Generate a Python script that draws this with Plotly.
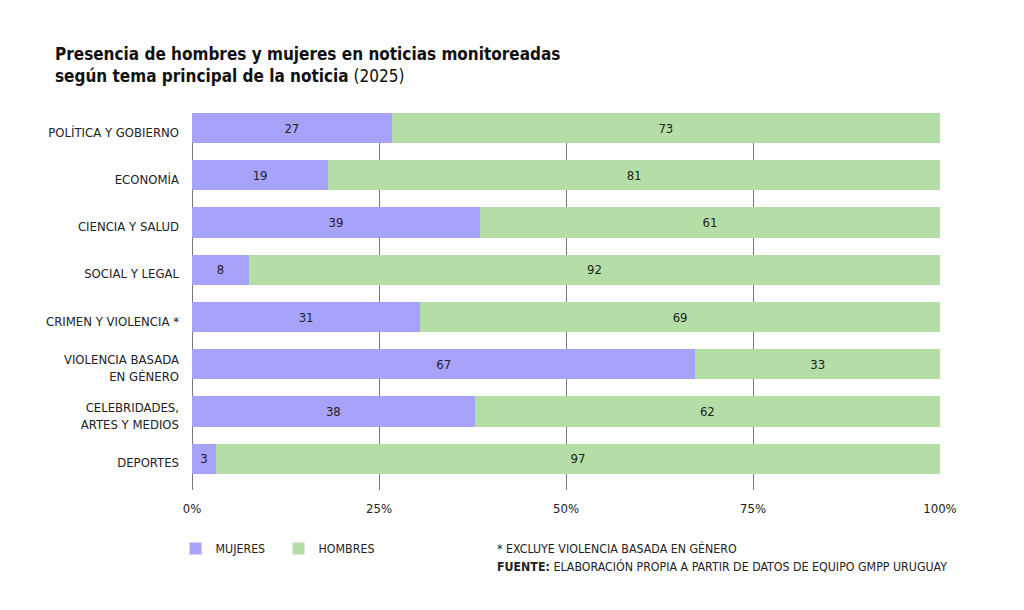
import plotly.graph_objects as go

categorias = ["POLÍTICA Y GOBIERNO", "ECONOMÍA", "CIENCIA Y SALUD", "SOCIAL Y LEGAL",
              "CRIMEN Y VIOLENCIA *", "VIOLENCIA BASADA<br>EN GÉNERO",
              "CELEBRIDADES,<br>ARTES Y MEDIOS", "DEPORTES"]
mujeres = [26.7, 18.2, 38.5, 7.6, 30.5, 67.3, 37.8, 3.2]
hombres = [73.3, 81.8, 61.5, 92.4, 69.5, 32.7, 62.2, 96.8]
etiquetas_mujeres = ["27", "19", "39", "8", "31", "67", "38", "3"]
etiquetas_hombres = ["73", "81", "61", "92", "69", "33", "62", "97"]
ticks_x = [0, 25, 50, 75, 100]
ticks_x_texto = ["0%", "25%", "50%", "75%", "100%"]

FONT = "DejaVu Sans Condensed, Lato, sans-serif"
C_M = "#a7a3fb"
C_H = "#b5dea7"

# page has an 8px body margin: shift everything up/left by 8px
L, T = 184, 105
PW, PH = 748, 377

fig = go.Figure()
fig.add_trace(go.Bar(
    y=categorias, x=mujeres, orientation="h", name="MUJERES",
    marker=dict(color=C_M, line=dict(width=0)),
    text=etiquetas_mujeres, textposition="inside", insidetextanchor="middle",
    textfont=dict(family=FONT, size=13, color="#222"), hoverinfo="skip",
))
fig.add_trace(go.Bar(
    y=categorias, x=hombres, orientation="h", name="HOMBRES",
    marker=dict(color=C_H, line=dict(width=0)),
    text=etiquetas_hombres, textposition="inside", insidetextanchor="middle",
    textfont=dict(family=FONT, size=13, color="#222"), hoverinfo="skip",
))

fig.update_layout(
    width=1024, height=610,
    barmode="stack", bargap=0.36,
    paper_bgcolor="white", plot_bgcolor="white",
    margin=dict(l=L, r=1024 - L - PW, t=T, b=610 - T - PH, autoexpand=False),
    font=dict(family=FONT, size=13, color="#222"),
    uniformtext=dict(minsize=8, mode="show"),
    title=dict(
        text="<b>Presencia de hombres y mujeres en noticias monitoreadas</b><br>"
             "<b>según tema principal de la noticia</b> (2025)",
        x=47 / 1024, xanchor="left", xref="container",
        y=1 - 52 / 610, yanchor="top", yref="container",
        font=dict(family=FONT, size=17, color="#111"),
    ),
    showlegend=True,
    legend=dict(
        orientation="h", x=-0.022, xanchor="left", y=-0.117, yanchor="top",
        font=dict(family=FONT, size=12.3, color="#222"),
        itemwidth=30, entrywidth=58, entrywidthmode="pixels",
        traceorder="normal", itemclick=False,
    ),
    xaxis=dict(
        range=[0, 100], tickvals=ticks_x, ticktext=ticks_x_texto,
        showgrid=True, gridcolor="#777", gridwidth=1,
        zeroline=True, zerolinecolor="#777", zerolinewidth=1,
        showline=False, ticks="", ticklabelstandoff=9,
        tickfont=dict(family=FONT, size=13, color="#222"),
        fixedrange=True,
    ),
    yaxis=dict(
        categoryorder="array", categoryarray=categorias,
        range=[7.66, -0.32], showgrid=False, zeroline=False,
        ticks="", ticklabelstandoff=12, ticklabelshift=-4,
        tickfont=dict(family=FONT, size=13, color="#222"),
        fixedrange=True,
    ),
)

fig.add_annotation(
    text="* EXCLUYE VIOLENCIA BASADA EN GÉNERO",
    xref="paper", yref="paper", x=(495 - 192) / PW, y=(490 - 539) / PH,
    xanchor="left", yanchor="top", showarrow=False,
    font=dict(family=FONT, size=12.3, color="#222"),
)
fig.add_annotation(
    text="<b>FUENTE:</b> ELABORACIÓN PROPIA A PARTIR DE DATOS DE EQUIPO GMPP URUGUAY",
    xref="paper", yref="paper", x=(495 - 192) / PW, y=(490 - 557) / PH,
    xanchor="left", yanchor="top", showarrow=False,
    font=dict(family=FONT, size=12.3, color="#222"),
)

fig.write_html("out.html")
